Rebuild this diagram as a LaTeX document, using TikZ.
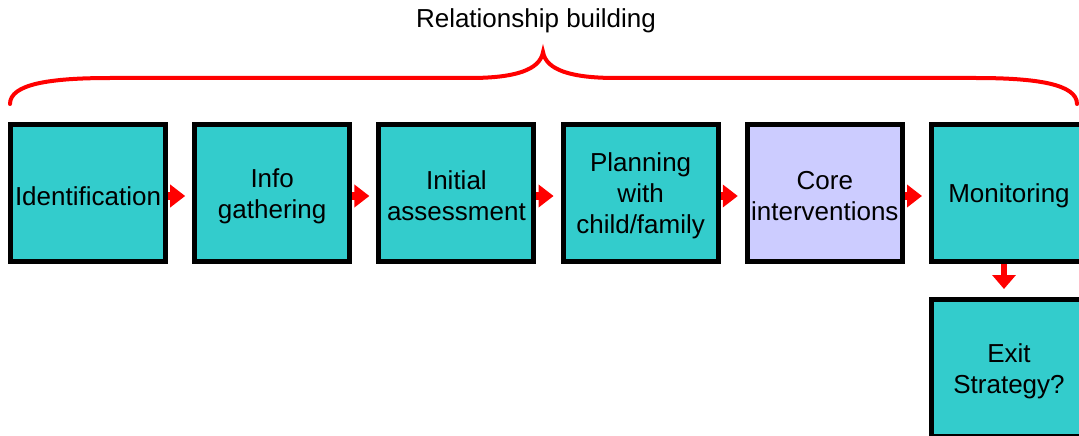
\documentclass[tikz,border=0pt]{standalone}
\usepackage{fontspec}
\setmainfont{Liberation Sans}
\usetikzlibrary{arrows.meta}
\definecolor{teal1}{HTML}{33CCCC}
\definecolor{lav}{HTML}{CCCCFF}
\definecolor{red1}{HTML}{FF0000}
\tikzset{
  stepbox/.style={draw=black, line width=5pt, fill=teal1, minimum width=155pt, minimum height=137pt, inner sep=0pt},
  steptext/.style={align=center, inner sep=0pt, font=\fontsize{26}{31}\selectfont},
  flowarr/.style={draw=red1, line width=8pt, -{Triangle[length=15pt,width=22pt]}, shorten >=7pt},
  downarr/.style={draw=red1, line width=6pt, -{Triangle[length=14pt,width=23pt]}, shorten >=8pt},
  bracel/.style={draw=red1, line width=4pt, line cap=round}
}
\begin{document}
\begin{tikzpicture}[x=1pt,y=-1pt]
\useasboundingbox (0,0) rectangle (1079,436);
\clip (0,0) rectangle (1079,436);
\node[font=\fontsize{26}{31}\selectfont] (title) at (536,21) {Relationship building};
\draw[bracel] (10,104) .. controls (10,84) and (50,78) .. (110,78) -- (470,78) .. controls (515,78) and (540,70) .. (543,52)
  .. controls (546,70) and (571,78) .. (616,78) -- (976,78) .. controls (1036,78) and (1077,84) .. (1077,104);
\node[stepbox] (b1) at (88,193) {};
\node[stepbox] (b2) at (272.2,193) {};
\node[stepbox] (b3) at (456.4,193) {};
\node[stepbox] (b4) at (640.6,193) {};
\node[stepbox, fill=lav] (b5) at (824.8,193) {};
\node[stepbox] (b6) at (1009,193) {};
\node[stepbox] (b7) at (1009,368) {};
\node[steptext] (t1) at ([yshift=-3pt]b1.center) {Identification};
\node[steptext] (t2) at ([yshift=-3pt]b2.center) {Info\\gathering};
\node[steptext] (t3) at ([yshift=-3pt]b3.center) {Initial\\assessment};
\node[steptext] (t4) at ([yshift=-3pt]b4.center) {Planning\\with\\child/family};
\node[steptext] (t5) at ([yshift=-3pt]b5.center) {Core\\interventions};
\node[steptext] (t6) at ([yshift=-3pt]b6.center) {Monitoring};
\node[steptext] (t7) at ([yshift=-3pt]b7.center) {Exit\\Strategy?};
\draw[flowarr] ([yshift=-3pt]b1.east) -- ([yshift=-3pt]b2.west);
\draw[flowarr] ([yshift=-3pt]b2.east) -- ([yshift=-3pt]b3.west);
\draw[flowarr] ([yshift=-3pt]b3.east) -- ([yshift=-3pt]b4.west);
\draw[flowarr] ([yshift=-3pt]b4.east) -- ([yshift=-3pt]b5.west);
\draw[flowarr] ([yshift=-3pt]b5.east) -- ([yshift=-3pt]b6.west);
\draw[downarr] ([xshift=-5pt]b6.south) -- ([xshift=-5pt]b7.north);
\end{tikzpicture}
\end{document}
